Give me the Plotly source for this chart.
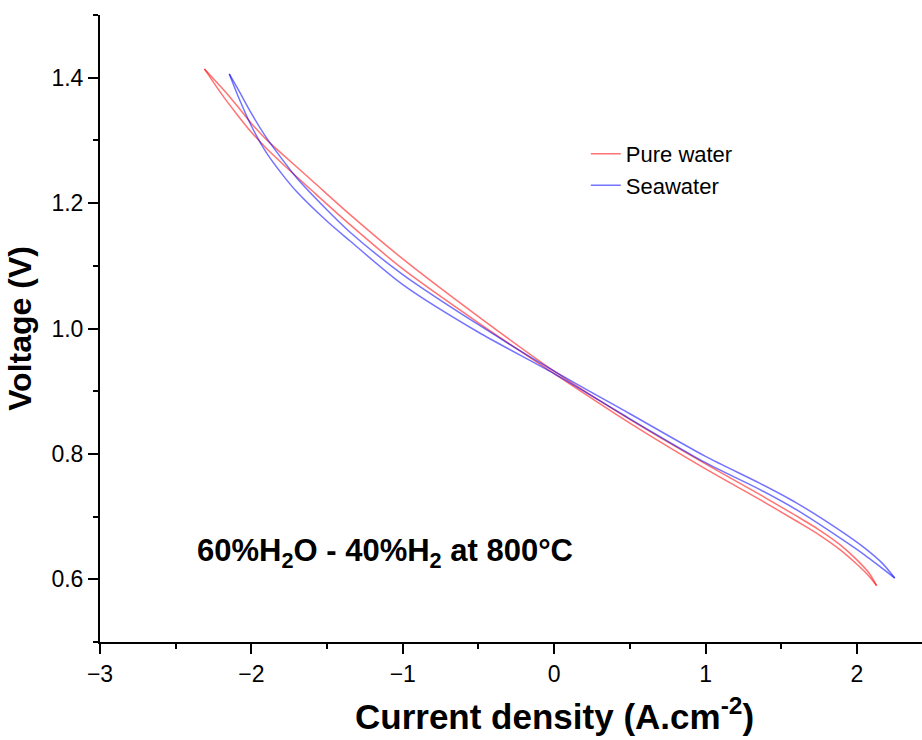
import plotly.graph_objects as go

# ---- data ----
# Pure water: two sweep branches of the hysteresis loop
x_pure = [-2.31, -2.20, -2.10, -2.00, -1.90, -1.80, -1.60, -1.35, -1.00, -0.50,
          0.00, 0.50, 1.00, 1.36, 1.60, 1.75, 1.89, 2.00, 2.08, 2.13]
v_pure_a = [1.414, 1.385, 1.357, 1.327, 1.301, 1.279, 1.236, 1.182, 1.111, 1.019,
            0.932, 0.855, 0.784, 0.735, 0.701, 0.679, 0.655, 0.631, 0.610, 0.590]
v_pure_b = [1.414, 1.375, 1.343, 1.313, 1.287, 1.264, 1.220, 1.166, 1.095, 1.009,
            0.928, 0.849, 0.776, 0.727, 0.693, 0.671, 0.647, 0.624, 0.605, 0.590]

# Seawater: two sweep branches
x_sea = [-2.146, -2.08, -2.00, -1.90, -1.80, -1.70, -1.50, -1.35, -1.00, -0.50,
         0.00, 0.50, 1.00, 1.36, 1.60, 1.90, 2.05, 2.17, 2.25]
v_sea_a = [1.406, 1.378, 1.343, 1.304, 1.271, 1.240, 1.189, 1.154, 1.086, 1.006,
           0.932, 0.864, 0.796, 0.753, 0.722, 0.676, 0.650, 0.625, 0.602]
v_sea_b = [1.406, 1.366, 1.323, 1.280, 1.247, 1.218, 1.171, 1.140, 1.070, 0.994,
           0.928, 0.856, 0.786, 0.743, 0.711, 0.664, 0.639, 0.617, 0.602]

series_names = ["Pure water", "Seawater"]
x_ticks = [-3, -2, -1, 0, 1, 2]
y_ticks = [0.6, 0.8, 1.0, 1.2, 1.4]

FONT = "Liberation Sans, Arial, sans-serif"
RED = "rgba(255,0,0,0.55)"
BLUE = "rgba(0,0,255,0.55)"

fig = go.Figure()
for i, (xs, vs) in enumerate([(x_pure, v_pure_a), (x_pure, v_pure_b)]):
    fig.add_trace(go.Scatter(x=xs, y=vs, mode="lines", name=series_names[0],
                             legendgroup="pure", showlegend=(i == 0),
                             line=dict(color=RED, width=1.5, shape="spline", smoothing=0.8)))
for i, (xs, vs) in enumerate([(x_sea, v_sea_a), (x_sea, v_sea_b)]):
    fig.add_trace(go.Scatter(x=xs, y=vs, mode="lines", name=series_names[1],
                             legendgroup="sea", showlegend=(i == 0),
                             line=dict(color=BLUE, width=1.5, shape="spline", smoothing=0.8)))

axis_common = dict(
    showgrid=False, zeroline=False, showline=True, linewidth=2, linecolor="black",
    ticks="outside", ticklen=10, tickwidth=2, tickcolor="black",
    tickfont=dict(family=FONT, size=23, color="black"),
)

fig.update_layout(
    width=922, height=740,
    margin=dict(l=100, r=0, t=15, b=98),
    paper_bgcolor="white", plot_bgcolor="white",
    font=dict(family=FONT, color="black"),
    showlegend=True,
    legend=dict(x=0.591, y=0.812, xanchor="left", yanchor="top",
                bgcolor="rgba(0,0,0,0)", font=dict(family=FONT, size=22, color="black"),
                itemwidth=30, tracegroupgap=0),
    xaxis=dict(range=[-3, 2.43], tickmode="array", tickvals=x_ticks,
               minor=dict(dtick=0.5, tick0=0, ticks="outside", ticklen=5, tickwidth=2,
                          tickcolor="black", showgrid=False),
               **axis_common),
    yaxis=dict(range=[0.5, 1.5], tickmode="array", tickvals=y_ticks, tickformat=".1f",
               minor=dict(dtick=0.1, tick0=0, ticks="outside", ticklen=5, tickwidth=2,
                          tickcolor="black", showgrid=False),
               title=dict(text="<b>Voltage (V)</b>",
                          font=dict(family=FONT, size=32, color="black"), standoff=10),
               **axis_common),
    annotations=[
        dict(text="<b>60%H<sub>2</sub>O - 40%H<sub>2</sub> at 800°C</b>",
             x=-1.118, y=0.642, xref="x", yref="y", showarrow=False,
             xanchor="center", yanchor="middle",
             font=dict(family=FONT, size=31, color="black")),
        # x-axis title (centred on the full Origin axis, which extends past the crop)
        dict(text="<b>Current density (A.cm<sup>-2</sup>)</b>",
             x=0.5535, y=-0.115, xref="paper", yref="paper", showarrow=False,
             xanchor="center", yanchor="middle",
             font=dict(family=FONT, size=35, color="black")),
    ],
)

fig.write_html("out.html")
